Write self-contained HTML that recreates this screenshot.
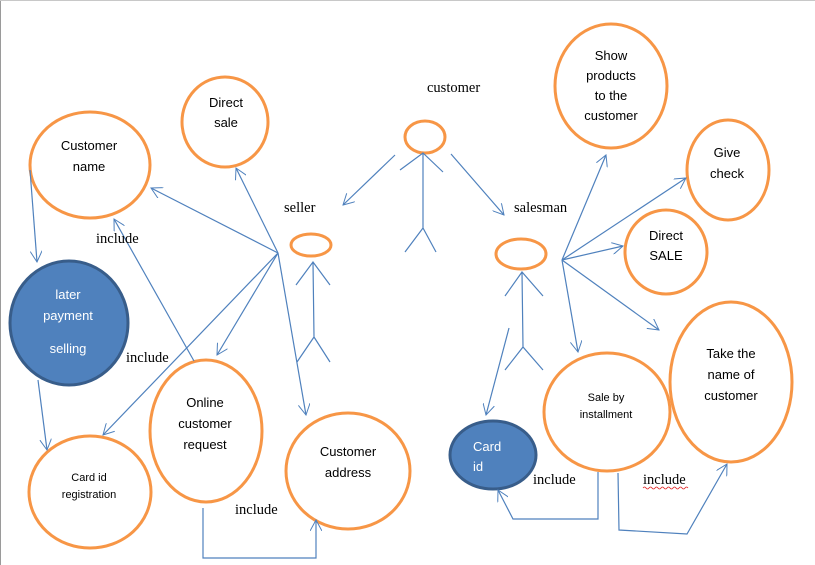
<!DOCTYPE html>
<html><head><style>
html,body{margin:0;padding:0;background:#fff;width:815px;height:565px;overflow:hidden}
svg{display:block}
.u{font-family:"Liberation Sans",sans-serif;font-size:13px;fill:#000;text-anchor:middle}
.s{font-size:11px}
.t{font-family:"Liberation Serif",serif;font-size:14.5px;fill:#000}
</style></head><body>
<svg width="815" height="565" viewBox="0 0 815 565">
<defs><marker id="a" viewBox="0 0 12 12" refX="11" refY="6" markerWidth="12" markerHeight="12" markerUnits="userSpaceOnUse" orient="auto"><path d="M0,0 L11,6 L0,12" fill="none" stroke="#4f81bd" stroke-width="1"/></marker></defs>
<line x1="0.5" y1="0" x2="0.5" y2="565" stroke="#9a9a9a"/>
<line x1="0" y1="0.5" x2="815" y2="0.5" stroke="#c8c8c8"/>
<g fill="none" stroke="#f79646" stroke-width="3">
<ellipse cx="90" cy="165" rx="60" ry="53"/>
<ellipse cx="225" cy="122" rx="43" ry="45"/>
<ellipse cx="90" cy="492" rx="61" ry="56"/>
<ellipse cx="206" cy="431" rx="56" ry="71"/>
<ellipse cx="348" cy="471" rx="62" ry="58"/>
<ellipse cx="611" cy="86" rx="56" ry="62"/>
<ellipse cx="728" cy="170" rx="41" ry="50"/>
<ellipse cx="666" cy="252" rx="41" ry="42"/>
<ellipse cx="731" cy="382" rx="61" ry="80"/>
<ellipse cx="607" cy="412" rx="63" ry="59"/>
<ellipse cx="425" cy="137" rx="20" ry="16"/>
<ellipse cx="311" cy="245" rx="20" ry="11"/>
<ellipse cx="521" cy="254" rx="25" ry="15"/>
</g>
<ellipse cx="69" cy="323" rx="59" ry="62" fill="#4f81bd" stroke="#385d8a" stroke-width="3"/>
<ellipse cx="493" cy="455" rx="43" ry="34" fill="#4f81bd" stroke="#385d8a" stroke-width="3"/>
<g fill="none" stroke="#4f81bd" stroke-width="1.2">
<path d="M423,153 L423,228 M400,170 L423,153 L443,172 M405,252 L423,228 L436,252"/>
<path d="M313,262 L314,337 M296,285 L313,262 L330,285 M297,362 L314,337 L330,362"/>
<path d="M522,272 L523,347 M505,296 L522,272 L543,296 M505,370 L523,347 L543,370"/>
</g>
<g fill="none" stroke="#4f81bd" stroke-width="1.2" marker-end="url(#a)">
<line x1="395" y1="155" x2="343" y2="205"/>
<line x1="451" y1="154" x2="504" y2="215"/>
<line x1="278" y1="253" x2="151" y2="188"/>
<line x1="278" y1="253" x2="236" y2="168"/>
<line x1="278" y1="253" x2="103" y2="435"/>
<line x1="278" y1="253" x2="217" y2="355"/>
<line x1="278" y1="253" x2="306" y2="415"/>
<line x1="30" y1="170" x2="37" y2="262"/>
<line x1="38" y1="380" x2="47" y2="450"/>
<line x1="194" y1="361" x2="114" y2="219"/>
<polyline points="203,508 203,558 316,558 316,520"/>
<line x1="562" y1="260" x2="606" y2="155"/>
<line x1="562" y1="260" x2="686" y2="178"/>
<line x1="562" y1="260" x2="623" y2="246"/>
<line x1="562" y1="260" x2="659" y2="330"/>
<line x1="562" y1="260" x2="578" y2="352"/>
<line x1="509" y1="328" x2="486" y2="415"/>
<polyline points="598,472 598,519 513,519 498,490"/>
<polyline points="618,473 619,530 687,534 727,464"/>
</g>
<g class="u">
<text x="89" y="150">Customer</text><text x="89" y="171">name</text>
<text x="226" y="107">Direct</text><text x="226" y="127">sale</text>
<text x="68" y="299" fill="#fff" style="fill:#fff">later</text>
<text x="68" y="320" style="fill:#fff">payment</text>
<text x="68" y="353" style="fill:#fff">selling</text>
<text class="s" x="89" y="481">Card id</text><text class="s" x="89" y="498">registration</text>
<text x="205" y="407">Online</text><text x="205" y="428">customer</text><text x="205" y="449">request</text>
<text x="348" y="456">Customer</text><text x="348" y="477">address</text>
<text x="611" y="60">Show</text><text x="611" y="80">products</text><text x="611" y="100">to the</text><text x="611" y="120">customer</text>
<text x="727" y="157">Give</text><text x="727" y="178">check</text>
<text x="666" y="240">Direct</text><text x="666" y="260">SALE</text>
<text x="731" y="358">Take the</text><text x="731" y="379">name of</text><text x="731" y="400">customer</text>
<text class="s" x="606" y="401">Sale by</text><text class="s" x="606" y="418">installment</text>
<text x="473" y="451" style="fill:#fff;text-anchor:start">Card</text>
<text x="473" y="471" style="fill:#fff;text-anchor:start">id</text>
</g>
<g class="t">
<text x="427" y="92">customer</text>
<text x="284" y="212">seller</text>
<text x="514" y="212">salesman</text>
<text x="96" y="243">include</text>
<text x="126" y="362">include</text>
<text x="235" y="514">include</text>
<text x="533" y="484">include</text>
<text x="643" y="484">include</text>
</g>
<path d="M643,488 q1.5,-2 3,0 t3,0 t3,0 t3,0 t3,0 t3,0 t3,0 t3,0 t3,0 t3,0 t3,0 t3,0 t3,0 t3,0 t3,0" fill="none" stroke="#e02020" stroke-width="0.8"/>
</svg>
</body></html>
